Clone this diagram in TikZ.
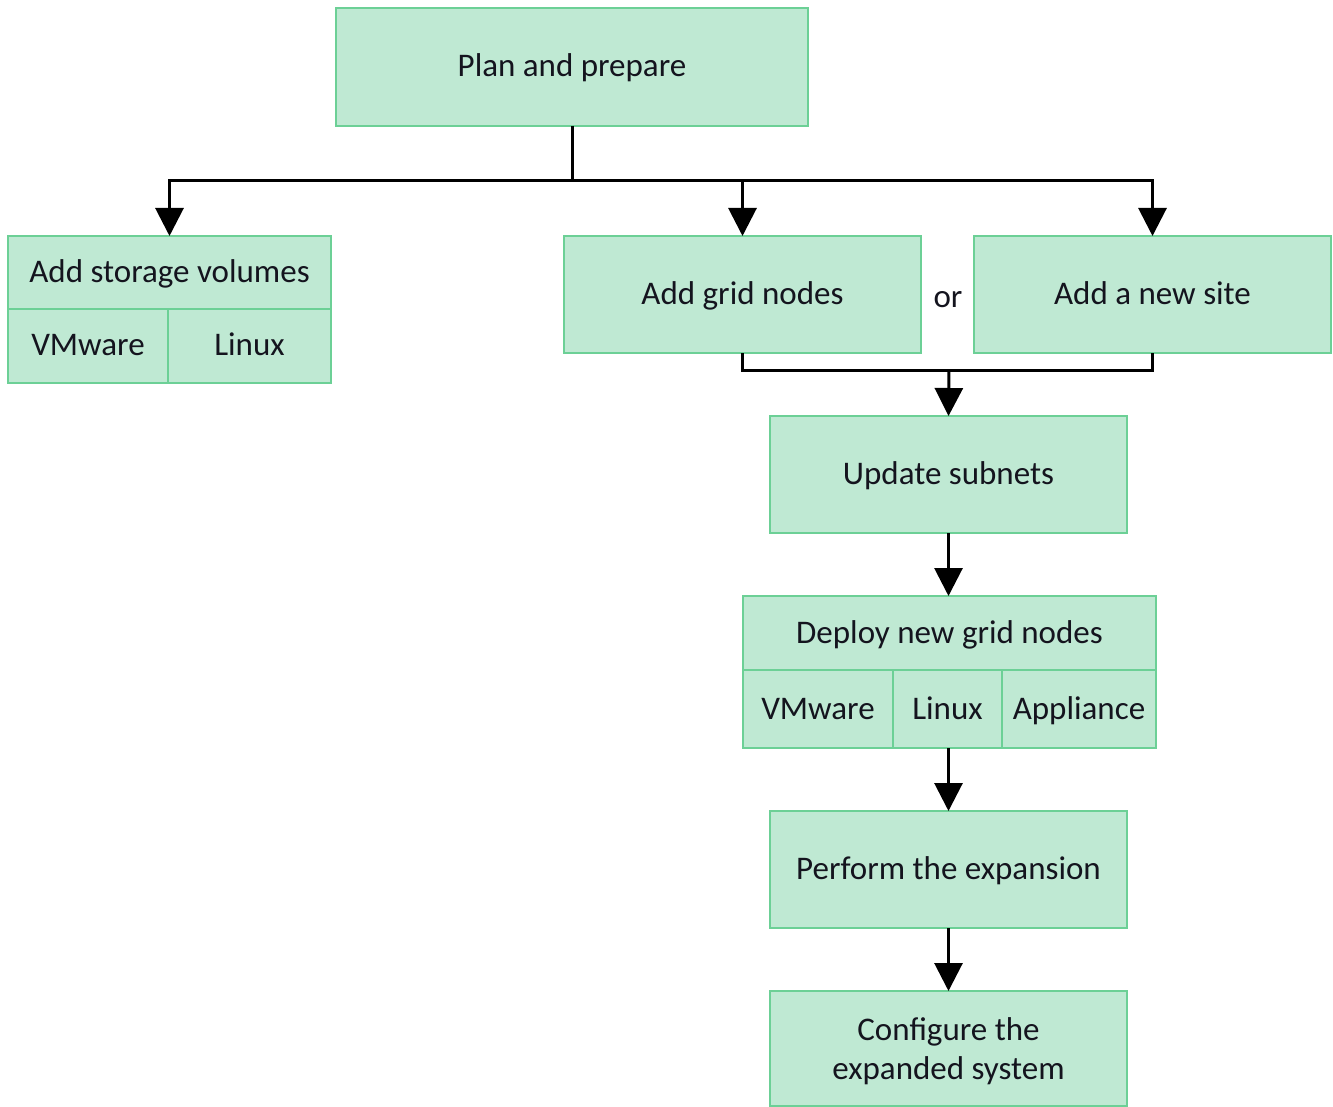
\documentclass[tikz,border=0pt]{standalone}
\usepackage{fontspec}
\setmainfont{Carlito}
\usetikzlibrary{arrows.meta}
\definecolor{boxfill}{RGB}{191,233,211}
\definecolor{boxline}{RGB}{108,208,150}
\definecolor{txt}{RGB}{20,20,30}
\newcommand\boxstrut{\rule[-5pt]{0pt}{20pt}}
\begin{document}
\begin{tikzpicture}[x=0.5pt,y=-0.5pt,
  box/.style={draw=boxline, fill=boxfill, line width=1pt, inner sep=0pt, outer sep=0pt,
    anchor=north west, text=txt, font=\fontsize{16.5}{19.5}\selectfont},
  onebox/.style={box, execute at begin node=\boxstrut},
  conn/.style={line width=1.5pt, draw=black},
  arr/.style={conn, -{Triangle[length=14pt,width=14pt]}}]
\useasboundingbox (0,0) rectangle (1333,1107);
% boxes
\node[onebox, minimum width=236pt, minimum height=59pt] (plan) at (336,8) {Plan and prepare};
\node[onebox, minimum width=161.5pt, minimum height=36.5pt] (sv) at (8,236) {Add storage volumes};
\node[onebox, minimum width=80pt, minimum height=37pt] (svvm) at (8,309) {VMware};
\node[onebox, minimum width=81.5pt, minimum height=37pt] (svlx) at (168,309) {Linux};
\node[onebox, minimum width=178.5pt, minimum height=58.5pt] (grid) at (564,236) {Add grid nodes};
\node[onebox, minimum width=178.5pt, minimum height=58.5pt] (site) at (974,236) {Add a new site};
\node[text=txt, font=\fontsize{16.5}{19.5}\selectfont, inner sep=0pt] (or) at (948,297) {\boxstrut or};
\node[onebox, minimum width=178.5pt, minimum height=58.5pt] (upd) at (770,416) {Update subnets};
\node[onebox, minimum width=206.5pt, minimum height=37pt] (dep) at (743,596) {Deploy new grid nodes};
\node[onebox, minimum width=75pt, minimum height=39pt] (depvm) at (743,670) {VMware};
\node[onebox, minimum width=54.5pt, minimum height=39pt] (deplx) at (893,670) {Linux};
\node[onebox, minimum width=77pt, minimum height=39pt] (depap) at (1002,670) {Appliance};
\node[onebox, minimum width=178.5pt, minimum height=58.5pt] (perf) at (770,811) {Perform the expansion};
\node[box, minimum width=178.5pt, minimum height=57.5pt] (conf) at (770,991)
  {\begin{tabular}{@{}c@{}}\rule{0pt}{17pt}Configure the\\expanded system\end{tabular}};
% connectors
\draw[conn] (plan.south) -- ++(0,55) coordinate (j1);
\draw[arr] (j1) -| (sv.north);
\draw[arr] (j1) -| (grid.north);
\draw[arr] (j1) -| (site.north);
\draw[conn] (grid.south) -- ++(0,17) -| (site.south);
\coordinate (j2) at (949,370);
\draw[arr] (j2) -- (upd.north);
\draw[arr] (upd.south) -- (upd.south |- dep.north);
\draw[arr] (perf.north |- deplx.south) -- (perf.north);
\draw[arr] (perf.south) -- (conf.north);
\end{tikzpicture}
\end{document}
